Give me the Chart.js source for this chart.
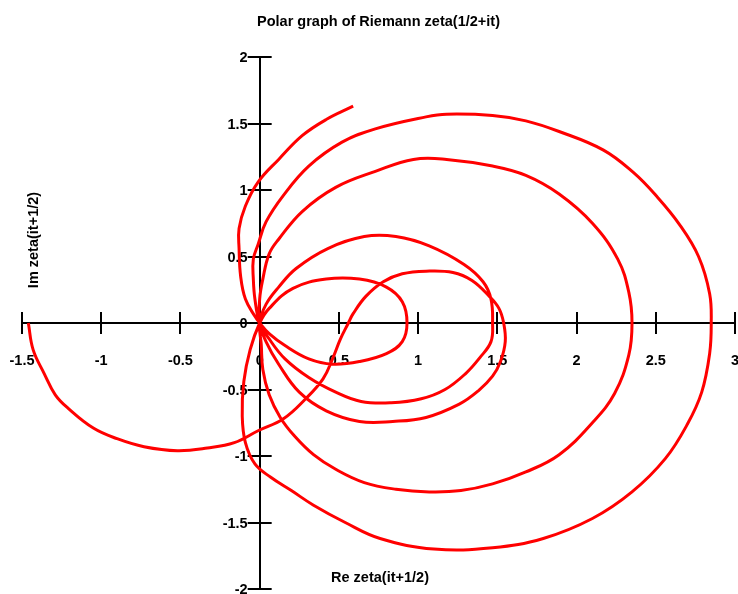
<!DOCTYPE html>
<html>
<head>
<meta charset="utf-8">
<script src="https://cdn.jsdelivr.net/npm/chart.js@4.4.0/dist/chart.umd.min.js"></script>
<style>
  html, body { margin: 0; padding: 0; background: #fff; }
  #box { width: 738px; height: 594px; }
</style>
</head>
<body>
<div id="box"><canvas id="zetaChart"></canvas></div>
<script>
// text
var titleText = 'Polar graph of Riemann zeta(1/2+it)';
var xTitle = 'Re zeta(it+1/2)';
var yTitle = 'Im zeta(it+1/2)';

// tick values
var xTicks = [-1.5, -1, -0.5, 0, 0.5, 1, 1.5, 2, 2.5, 3];
var yTicks = [-2, -1.5, -1, -0.5, 0, 0.5, 1, 1.5, 2];

// curve (each piece ends at the origin)
var reStart = [-1.46, -1.43, -1.36, -1.29, -1.21, -1.05, -0.90, -0.73, -0.52, -0.33, -0.16, -0.01, 0.15, 0.29, 0.40, 0.46, 0.51, 0.56, 0.59, 0.67, 0.78, 0.90, 1.05, 1.22, 1.34, 1.45, 1.51, 1.54, 1.55, 1.52, 1.47, 1.38, 1.26, 1.05, 0.84, 0.63, 0.42, 0.25, 0.12, 0.04, 0];
var imStart = [0, -0.20, -0.38, -0.54, -0.64, -0.79, -0.87, -0.93, -0.96, -0.94, -0.90, -0.81, -0.72, -0.57, -0.42, -0.27, -0.12, 0, 0.07, 0.20, 0.31, 0.37, 0.39, 0.38, 0.32, 0.20, 0.11, 0, -0.14, -0.29, -0.40, -0.51, -0.61, -0.71, -0.74, -0.74, -0.66, -0.52, -0.31, -0.14, 0];

var reLoop1 = [0, 0.02, 0.06, 0.12, 0.27, 0.48, 0.73, 0.97, 1.18, 1.47, 1.68, 1.89, 2.10, 2.26, 2.33, 2.35, 2.33, 2.24, 2.10, 1.89, 1.68, 1.47, 1.27, 1.07, 0.86, 0.66, 0.48, 0.34, 0.22, 0.13, 0.06, 0.02, 0.01, 0];
var imLoop1 = [0.18, 0.33, 0.52, 0.63, 0.84, 1.02, 1.14, 1.23, 1.23, 1.18, 1.11, 0.97, 0.75, 0.48, 0.23, 0, -0.24, -0.53, -0.75, -0.99, -1.12, -1.21, -1.26, -1.27, -1.25, -1.20, -1.10, -0.99, -0.85, -0.71, -0.54, -0.35, -0.16, 0];

var reLoop2 = [0.04, 0.12, 0.23, 0.43, 0.66, 0.86, 1.07, 1.29, 1.41, 1.46, 1.47, 1.46, 1.39, 1.30, 1.17, 1.02, 0.83, 0.64, 0.48, 0.31, 0.16, 0.06, 0];
var imLoop2 = [0.14, 0.27, 0.41, 0.56, 0.65, 0.65, 0.58, 0.44, 0.31, 0.18, 0, -0.14, -0.26, -0.38, -0.50, -0.57, -0.60, -0.59, -0.52, -0.41, -0.27, -0.12, 0];

var reLoop3 = [-0.03, -0.04, -0.04, -0.01, 0.04, 0.15, 0.31, 0.52, 0.73, 1.05, 1.18, 1.47, 1.68, 1.89, 2.17, 2.36, 2.50, 2.65, 2.77, 2.84, 2.85, 2.84, 2.79, 2.70, 2.56, 2.35, 2.10, 1.79, 1.47, 1.10, 0.76, 0.54, 0.34, 0.20, 0.07, -0.03, -0.09, -0.11, -0.10, -0.06, 0];
var imLoop3 = [0.18, 0.33, 0.48, 0.59, 0.76, 0.96, 1.18, 1.36, 1.46, 1.55, 1.57, 1.56, 1.52, 1.44, 1.30, 1.13, 0.96, 0.74, 0.50, 0.22, 0, -0.23, -0.52, -0.76, -1.02, -1.27, -1.47, -1.62, -1.69, -1.70, -1.62, -1.50, -1.37, -1.26, -1.16, -1.06, -0.90, -0.70, -0.44, -0.20, 0];

var reLoop4 = [0.06, 0.21, 0.42, 0.63, 0.80, 0.90, 0.93, 0.90, 0.80, 0.63, 0.46, 0.31, 0.16, 0.06, 0];
var imLoop4 = [0.11, 0.26, 0.33, 0.33, 0.27, 0.16, 0, -0.14, -0.23, -0.29, -0.31, -0.27, -0.17, -0.08, 0];

var reEnd = [-0.03, -0.09, -0.12, -0.13, -0.13, -0.09, -0.01, 0.12, 0.27, 0.42, 0.59];
var imEnd = [0.05, 0.18, 0.35, 0.56, 0.71, 0.88, 1.06, 1.23, 1.41, 1.53, 1.63];

var fontFamily = '"Liberation Sans", Arial, sans-serif';
var labelFont = 'bold 14.5px ' + fontFamily;

function toPoints(re, im) {
  return re.map(function (x, i) { return {x: x, y: im[i]}; });
}

var points = [].concat(
  toPoints(reStart, imStart),
  toPoints(reLoop1, imLoop1),
  toPoints(reLoop2, imLoop2),
  toPoints(reLoop3, imLoop3),
  toPoints(reLoop4, imLoop4),
  toPoints(reEnd, imEnd)
);

// ticks crossing the axes, y tick labels left of the axis, axis titles inside the plot
var axisDecor = {
  id: 'axisDecor',
  beforeDatasetsDraw: function (chart) {
    var ctx = chart.ctx;
    var xs = chart.scales.x, ys = chart.scales.y;
    var area = chart.chartArea;
    var x0 = xs.getPixelForValue(0), y0 = ys.getPixelForValue(0);
    ctx.save();
    ctx.strokeStyle = '#000';
    ctx.lineWidth = 2;
    ctx.beginPath();
    xTicks.forEach(function (v) {
      var px = Math.round(xs.getPixelForValue(v));
      ctx.moveTo(px, y0 - 11);
      ctx.lineTo(px, y0 + 11);
    });
    yTicks.forEach(function (v) {
      var py = Math.round(ys.getPixelForValue(v));
      ctx.moveTo(x0 - 12, py);
      ctx.lineTo(x0 + 12, py);
    });
    ctx.stroke();

    ctx.fillStyle = '#000';
    ctx.font = labelFont;
    ctx.textAlign = 'right';
    ctx.textBaseline = 'middle';
    ys.ticks.forEach(function (t) {
      ctx.fillText(String(t.value), x0 - 12, ys.getPixelForValue(t.value) + 1);
    });

    ctx.textAlign = 'center';
    ctx.fillText(xTitle, area.left + 358, area.bottom - 11);
    ctx.translate(area.left + 12, area.top + 183);
    ctx.rotate(-Math.PI / 2);
    ctx.fillText(yTitle, 0, 0);
    ctx.restore();
  }
};

function noPad(scale) {
  scale.paddingLeft = 0;
  scale.paddingRight = 0;
  scale.paddingTop = 0;
  scale.paddingBottom = 0;
}

var tickFont = {family: fontFamily, size: 14.5, weight: 'bold'};

new Chart(document.getElementById('zetaChart'), {
  type: 'scatter',
  data: {
    datasets: [{
      data: points,
      showLine: true,
      borderColor: '#ff0000',
      borderWidth: 3,
      pointRadius: 0,
      tension: 0.4,
      fill: false
    }]
  },
  options: {
    responsive: true,
    maintainAspectRatio: false,
    animation: false,
    layout: {padding: {left: 22, right: 3, top: 0, bottom: 5}},
    scales: {
      x: {
        type: 'linear',
        min: -1.5,
        max: 3,
        position: {y: 0},
        afterBuildTicks: function (s) { s.ticks = xTicks.map(function (v) { return {value: v}; }); },
        afterFit: noPad,
        grid: {display: true, drawOnChartArea: false, drawTicks: true, tickLength: 12, color: 'rgba(0,0,0,0)'},
        border: {display: true, color: '#000', width: 2},
        ticks: {
          color: '#000', font: tickFont, padding: 17, maxRotation: 0, autoSkip: false,
          callback: function (v) { return String(v); }
        }
      },
      y: {
        type: 'linear',
        min: -2,
        max: 2,
        position: {x: 0},
        afterBuildTicks: function (s) { s.ticks = yTicks.map(function (v) { return {value: v}; }); },
        afterFit: noPad,
        grid: {display: false},
        border: {display: true, color: '#000', width: 2},
        ticks: {display: false}
      }
    },
    plugins: {
      legend: {display: false},
      tooltip: {enabled: false},
      title: {
        display: true,
        text: titleText,
        fullSize: false,
        color: '#000',
        font: {family: fontFamily, size: 14.5, weight: 'bold'},
        padding: {top: 13, bottom: 26.6}
      }
    }
  },
  plugins: [axisDecor]
});
</script>
</body>
</html>
